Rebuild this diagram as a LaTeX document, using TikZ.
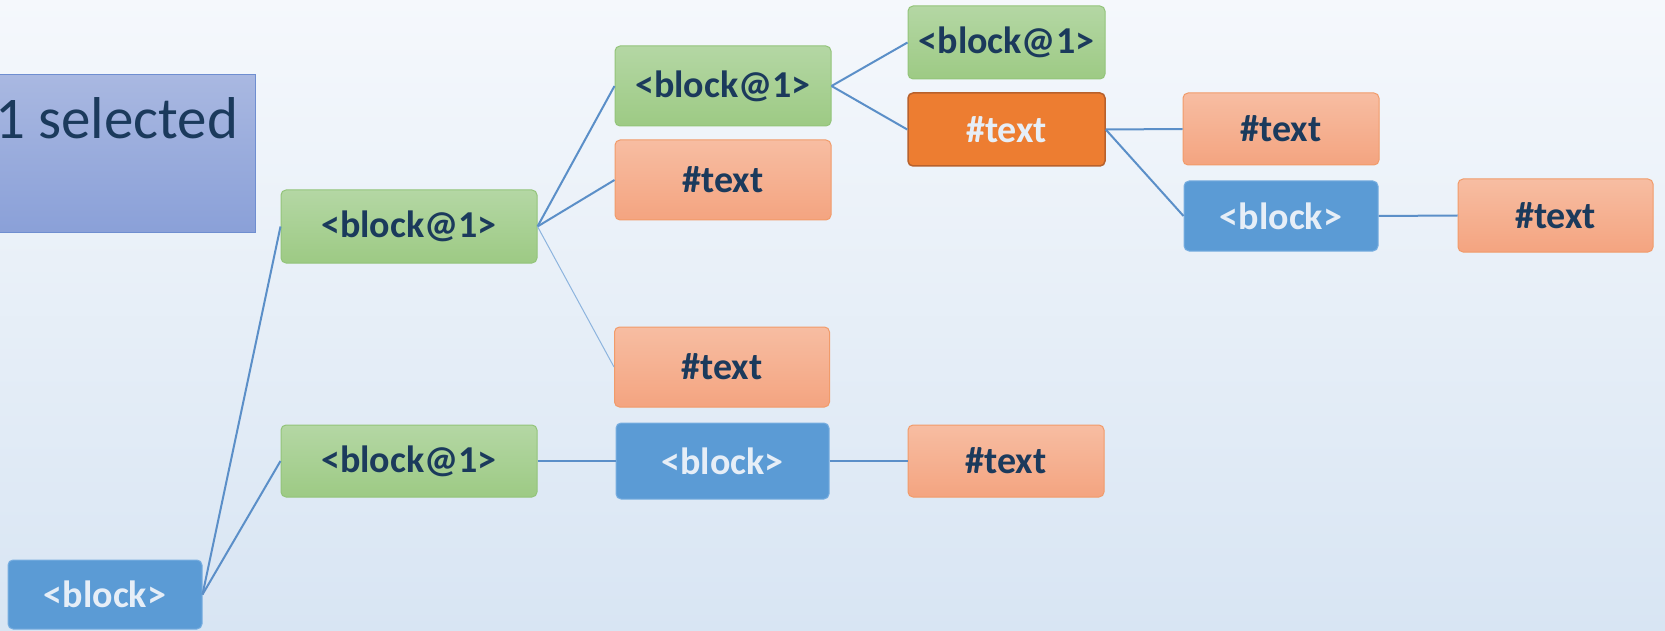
\documentclass[tikz,border=0pt]{standalone}
\usepackage{fontspec}
\setmainfont{Carlito}
\definecolor{bgtop}{HTML}{F5F8FC}
\definecolor{bgbot}{HTML}{D8E5F3}
\definecolor{navy}{HTML}{1B3A5C}
\definecolor{lighttxt}{HTML}{E6EEF7}
\definecolor{grtop}{HTML}{B4D7A4}
\definecolor{grbot}{HTML}{9DCA84}
\definecolor{grborder}{HTML}{93C47A}
\definecolor{ortop}{HTML}{F7BDA2}
\definecolor{orbot}{HTML}{F4A480}
\definecolor{orborder}{HTML}{F19B6A}
\definecolor{darkor}{HTML}{ED7D31}
\definecolor{darkorborder}{HTML}{B8612C}
\definecolor{bluefill}{HTML}{5B9BD5}
\definecolor{blueborder}{HTML}{78AEE0}
\definecolor{seltop}{HTML}{A9B8E1}
\definecolor{selbot}{HTML}{8AA0D8}
\definecolor{selborder}{HTML}{6F8ED0}
\definecolor{linkcol}{HTML}{5B8FC8}
\definecolor{thinlink}{HTML}{8DB4DE}
\tikzset{
  box/.style={rounded corners=5pt, minimum width=#1, inner sep=0pt,
    font=\fontsize{38}{40}\selectfont\bfseries},
  greenbox/.style={box=#1, top color=grtop, bottom color=grbot, draw=grborder, line width=1pt, text=navy},
  orangebox/.style={box=#1, top color=ortop, bottom color=orbot, draw=orborder, line width=1pt, text=navy},
  darkbox/.style={box=#1, fill=darkor, draw=darkorborder, line width=1.5pt, text=lighttxt},
  bluebox/.style={box=#1, fill=bluefill, draw=blueborder, line width=1pt, text=lighttxt},
  link/.style={draw=linkcol, line width=2pt},
  thin link/.style={draw=thinlink, line width=1pt}
}
\begin{document}
\begin{tikzpicture}[x=1pt, y=-1pt]
\useasboundingbox (0,0) rectangle (1665,631);
\clip (0,0) rectangle (1665,631);
\shade[top color=bgtop, bottom color=bgbot] (0,0) rectangle (1665,631);
% selected box
\shade[top color=seltop, bottom color=selbot] (-200,75) rectangle (255,233);
\draw[selborder, line width=1pt] (-200,75) rectangle (255,233);
\node[anchor=base west, inner sep=0pt, text=navy, font=\fontsize{59}{61}\selectfont] (sel) at (-5,139) {1 selected};
% nodes
\node[bluebox=194pt, minimum height=69pt] (root) at (105,594.5) {<block>};
\node[greenbox=256pt, minimum height=73pt] (g1) at (409,226.5) {<block@1>};
\node[greenbox=256pt, minimum height=72pt] (g2) at (409,461) {<block@1>};
\node[greenbox=216pt, minimum height=80pt] (g3) at (723,86) {<block@1>};
\node[orangebox=216pt, minimum height=80pt] (t1) at (723,180) {\#text};
\node[orangebox=215pt, minimum height=80pt] (t2) at (722,367) {\#text};
\node[bluebox=213pt, minimum height=76pt] (b1) at (722.5,461) {<block>};
\node[greenbox=197pt, minimum height=73pt] (g4) at (1006.5,42.5) {<block@1>};
\node[darkbox=197pt, minimum height=73pt] (dt) at (1006.5,129.5) {\#text};
\node[orangebox=196pt, minimum height=72pt] (t3) at (1006,461) {\#text};
\node[orangebox=196pt, minimum height=72pt] (t4) at (1281,129) {\#text};
\node[bluebox=194pt, minimum height=70pt] (b2) at (1281,216) {<block>};
\node[orangebox=195pt, minimum height=73pt] (t5) at (1555.5,215.5) {\#text};
% connectors
\draw[link] (root.east) -- (g1.west);
\draw[link] (root.east) -- (g2.west);
\draw[link] (g1.east) -- (g3.west);
\draw[link] (g1.east) -- (t1.west);
\draw[thin link] (g1.east) -- (t2.west);
\draw[link] (g2.east) -- (b1.west);
\draw[link] (b1.east) -- (t3.west);
\draw[link] (g3.east) -- (g4.west);
\draw[link] (g3.east) -- (dt.west);
\draw[link] (dt.east) -- (t4.west);
\draw[link] (dt.east) -- (b2.west);
\draw[link] (b2.east) -- (t5.west);
\end{tikzpicture}
\end{document}
